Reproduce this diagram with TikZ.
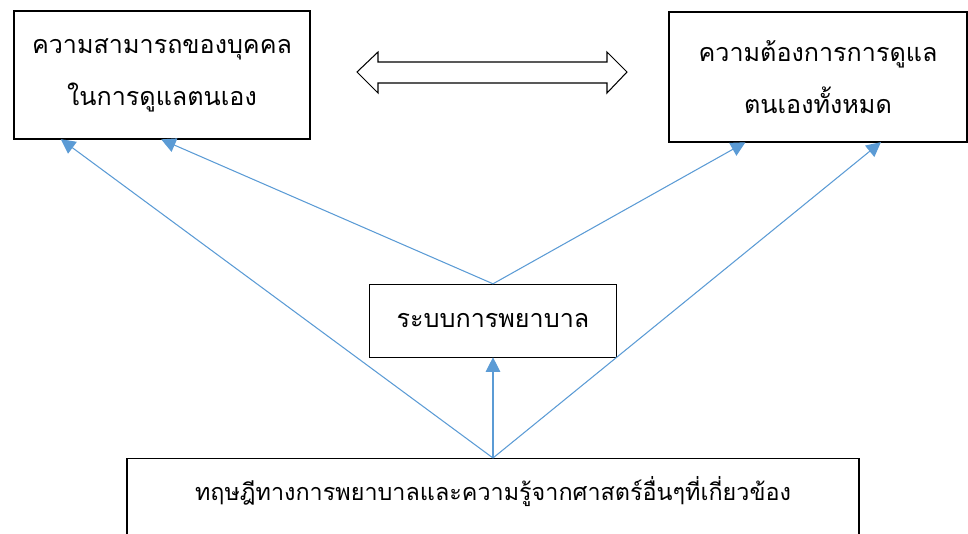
\documentclass[tikz,border=0pt]{standalone}
\usepackage{fontspec}
\newfontfamily\thaifont[Script=Thai]{Loma}
\usetikzlibrary{arrows.meta,calc}

\definecolor{linkblue}{HTML}{5B9BD5}

\tikzset{
  box/.style={draw,line width=0.8pt,align=center,inner sep=0pt,
    font=\thaifont\fontsize{14.3}{29.6}\selectfont},
  link/.style={draw=linkblue,line width=0.6pt,
    -{Triangle[length=0.29cm,width=0.29cm]},shorten >=-0.5pt},
}

\begin{document}
\begin{tikzpicture}[x=0.02cm,y=-0.02cm]
    \useasboundingbox (0,0) rectangle (968,534);
    \clip (0,0) rectangle (968,534);

    \node[box,minimum width=5.92cm,minimum height=2.56cm] (ability) at (162,75)
        {ความสามารถของบุคคล\\ในการดูแลตนเอง};
    \node[box,minimum width=5.96cm,minimum height=2.6cm] (demand) at (818,77)
        {ความต้องการการดูแล\\ตนเองทั้งหมด};
    \node[box,minimum width=4.94cm,minimum height=1.46cm] (nursing) at (493,321)
        {ระบบการพยาบาล};
    \node[box,minimum width=14.64cm,minimum height=2.56cm,anchor=north,
        font=\thaifont\fontsize{13.3}{29.6}\selectfont] (theory) at (493,458)
        {ทฤษฎีทางการพยาบาลและความรู้จากศาสตร์อื่นๆที่เกี่ยวข้อง\\ \strut};

    % double arrow between the two top boxes
    \draw[line width=0.6pt] (357,72) -- (378,52) -- (378,62) -- (607,62) -- (607,52)
        -- (627,72) -- (607,93) -- (607,83) -- (378,83) -- (378,93) -- cycle;

    \draw[link] (theory.north) -- ($(ability.south west)!0.162!(ability.south east)$);
    \draw[link] (theory.north) -- ($(demand.south west)!0.708!(demand.south east)$);
    \draw[link] (theory.north) -- (nursing.south);
    \draw[link] (nursing.north) -- (ability.south);
    \draw[link] (nursing.north) -- ($(demand.south west)!0.255!(demand.south east)$);
\end{tikzpicture}
\end{document}
